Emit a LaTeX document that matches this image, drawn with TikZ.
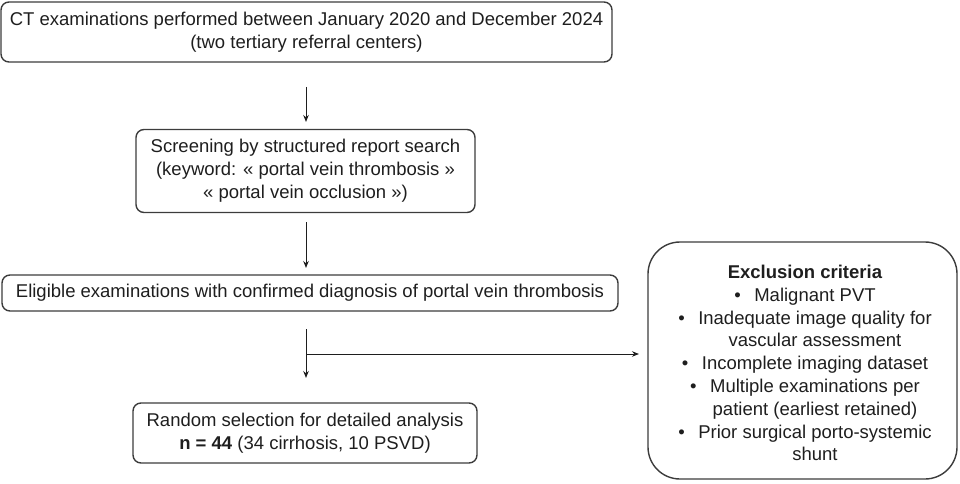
\documentclass[tikz,border=0pt]{standalone}
\usepackage{fontspec}
\setmainfont{Liberation Sans}
\usetikzlibrary{arrows.meta}
\definecolor{txt}{HTML}{1E1E1E}
\definecolor{edge}{HTML}{3C3C3C}
\tikzset{
  box/.style={draw=edge, line width=1.4pt, rounded corners=8pt, align=center,
    text=txt, inner sep=0pt, font=\fontsize{18.5}{23}\selectfont},
  bigbox/.style={draw=edge, line width=1.4pt, rounded corners=32pt, inner sep=0pt},
  arr/.style={draw=txt, line width=1pt, -{Stealth[length=7pt,width=5.5pt]}},
}
\newcommand{\bul}{\makebox[20pt][l]{\textbullet}}
\newcommand{\nobul}{\hspace*{20pt}}
\begin{document}
\begin{tikzpicture}[x=1pt,y=-1pt]
\useasboundingbox (0,0) rectangle (960,484);
\node[box, minimum width=611pt, minimum height=60pt] (b1) at (306.5,32)
  {CT examinations performed between January 2020 and December 2024\\(two tertiary referral centers)};
\node[box, minimum width=339pt, minimum height=83pt] (b2) at (305.5,171)
  {Screening by structured report search\\(keyword: « portal vein thrombosis »\\« portal vein occlusion »)};
\node[box, minimum width=616pt, minimum height=36pt] (b3) at (310,293)
  {Eligible examinations with confirmed diagnosis of portal vein thrombosis};
\node[box, minimum width=344pt, minimum height=60pt] (b4) at (305,433)
  {Random selection for detailed analysis\\\textbf{n = 44} (34 cirrhosis, 10 PSVD)};
\node[bigbox, minimum width=309pt, minimum height=237pt] (ex) at (802.5,360.5) {};
\node[align=center, text=txt, inner sep=0pt, font=\fontsize{18.5}{22.8}\selectfont] (ext) at (805,363)
  {\textbf{Exclusion criteria}\\
   \bul Malignant PVT\\
   \bul Inadequate image quality for\\
   \nobul vascular assessment\\
   \bul Incomplete imaging dataset\\
   \bul Multiple examinations per\\
   \nobul patient (earliest retained)\\
   \bul Prior surgical porto-systemic\\
   \nobul shunt};
\coordinate (a1s) at (306,87);
\coordinate (a1e) at (306,122);
\coordinate (a2s) at (306,222);
\coordinate (a2e) at (306,268);
\coordinate (a3s) at (306,329);
\coordinate (a3e) at (306,378);
\coordinate (br) at (306,354);
\coordinate (bre) at (639,354);
\draw[arr] (a1s) -- (a1e);
\draw[arr] (a2s) -- (a2e);
\draw[arr] (a3s) -- (a3e);
\draw[arr] (br) -- (bre);
\end{tikzpicture}
\end{document}
